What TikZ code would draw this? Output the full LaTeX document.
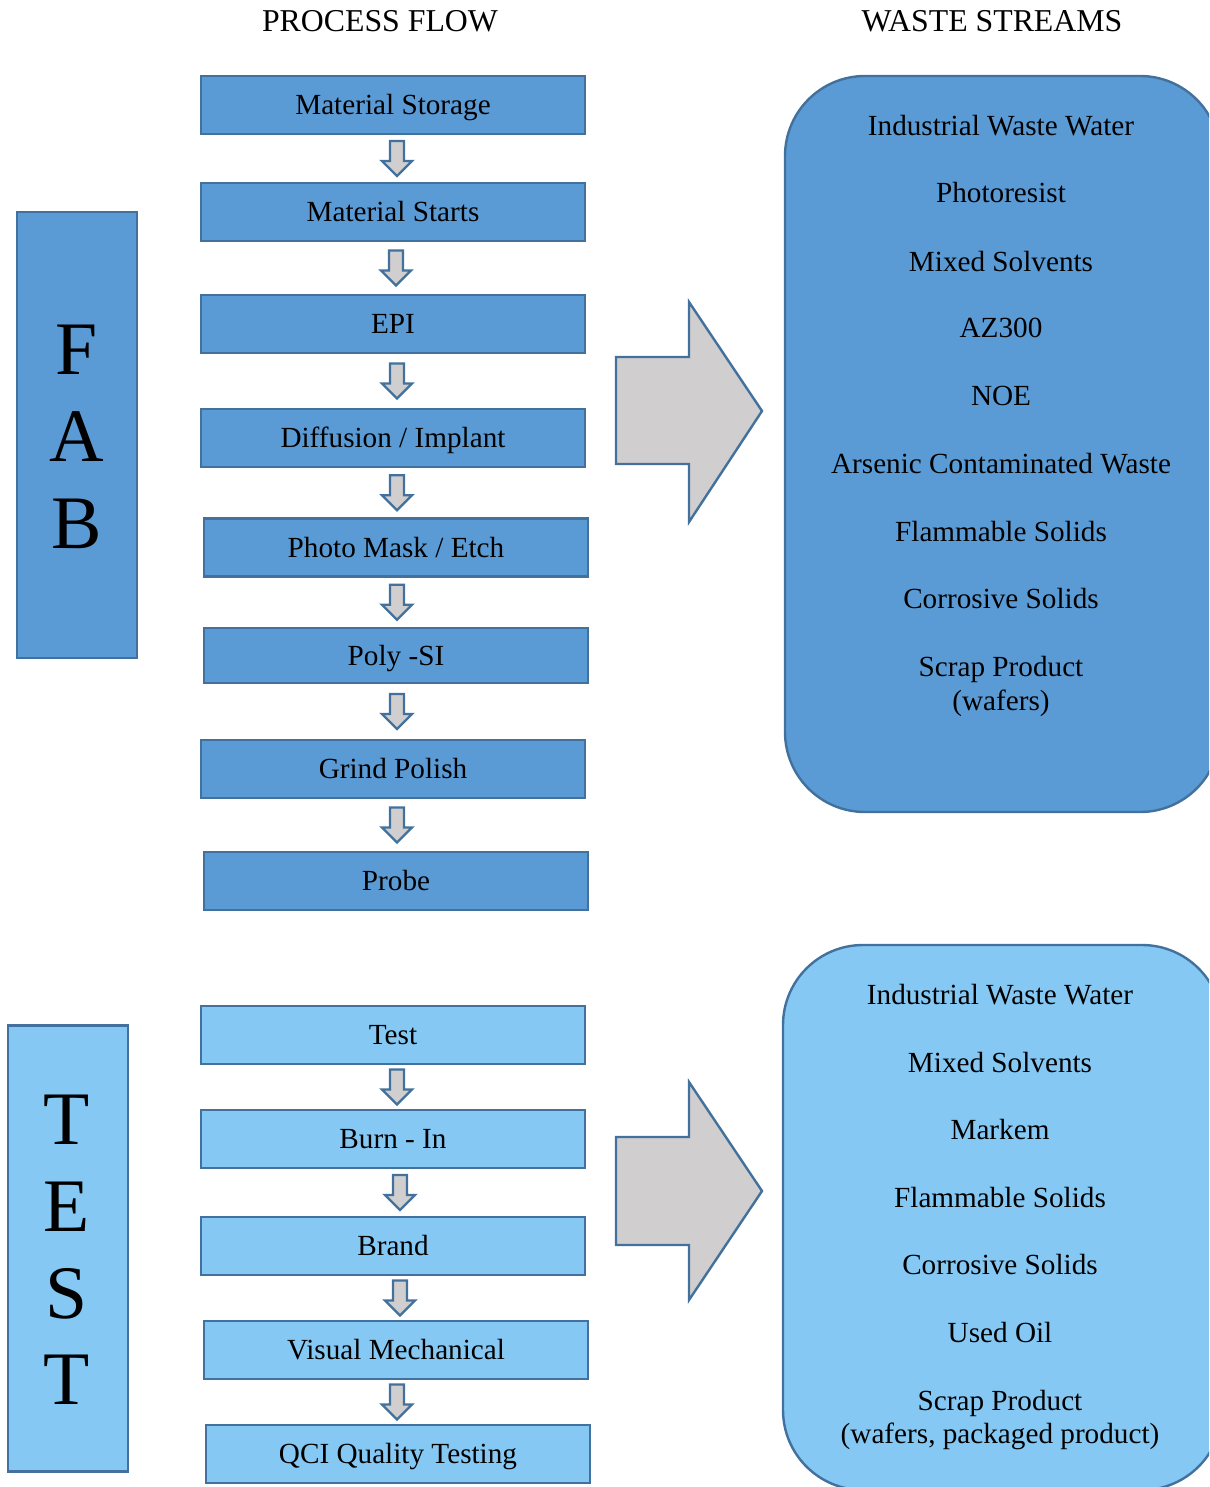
\documentclass[tikz,border=0pt]{standalone}
\usepackage{fontspec}
\setmainfont{Liberation Serif}
\usetikzlibrary{calc}
\definecolor{darkfill}{HTML}{5B9BD5}
\definecolor{lightfill}{HTML}{84C8F3}
\definecolor{edgeblue}{HTML}{41719C}
\definecolor{arrowgray}{HTML}{D0CECE}
\newcommand\blockarrow[3]{\pic at ($(#1.south)!0.5!(#2.north)+(#3,0)$) {dnarrow};}
\begin{document}
\begin{tikzpicture}[x=0.5pt,y=-0.5pt,
 every node/.style={inner sep=0pt},
 stepbox/.style={draw=edgeblue, line width=1.2pt, minimum width=192pt, minimum height=29pt,
   text height=12pt, text depth=2.5pt, font=\fontsize{14.6}{17}\selectfont},
 fabbox/.style={stepbox, fill=darkfill},
 testbox/.style={stepbox, fill=lightfill},
 waste/.style={font=\fontsize{14.6}{17}\selectfont, text height=10pt, text depth=3pt},
 wastetwo/.style={font=\fontsize{14.6}{17}\selectfont, align=center},
 titletext/.style={font=\fontsize{15.9}{18}\selectfont},
 bigletters/.style={font=\fontsize{37.8}{43.4}\selectfont, align=center},
 sidebox/.style={draw=edgeblue, line width=1.2pt, minimum width=60pt, minimum height=223pt},
 wastebox/.style={draw=edgeblue, line width=1.2pt, rounded corners=40pt},
 arrowshape/.style={draw=edgeblue, line width=1.2pt, fill=arrowgray, line join=miter},
 dnarrow/.pic={\draw[arrowshape] (-7,-17.5) -- (7,-17.5) -- (7,2.5) -- (15,2.5) -- (0,17.5) -- (-15,2.5) -- (-7,2.5) -- cycle;}
]
\useasboundingbox (0,0) rectangle (1209,1487);
\clip (0,0) rectangle (1209,1487);

% titles
\node[titletext] (t1) at (380,21) {PROCESS FLOW};
\node[titletext] (t2) at (992,21) {WASTE STREAMS};

% side boxes
\node[sidebox, fill=darkfill] (fab) at (77,435) {};
\node[bigletters] (fabtxt) at (77,437) {F\\A\\B};
\node[sidebox, fill=lightfill] (test) at (68,1248.5) {};
\node[bigletters] (testtxt) at (67,1250) {T\\E\\S\\T};

% FAB process
\node[fabbox] (f1) at (393,105) {Material Storage};
\node[fabbox] (f2) at (393,212) {Material Starts};
\node[fabbox] (f3) at (393,324) {EPI};
\node[fabbox] (f4) at (393,438) {Diffusion / Implant};
\node[fabbox] (f5) at (396,547.5) {Photo Mask / Etch};
\node[fabbox, minimum height=27.5pt] (f6) at (396,655.5) {Poly -SI};
\node[fabbox] (f7) at (393,769) {Grind Polish};
\node[fabbox] (f8) at (396,881) {Probe};

\blockarrow{f1}{f2}{4}
\blockarrow{f2}{f3}{3}
\blockarrow{f3}{f4}{4}
\blockarrow{f4}{f5}{2.5}
\blockarrow{f5}{f6}{1}
\blockarrow{f6}{f7}{2.5}
\blockarrow{f7}{f8}{2.5}

% TEST process
\node[testbox] (s1) at (393,1035) {Test};
\node[testbox] (s2) at (393,1139) {Burn - In};
\node[testbox] (s3) at (393,1246) {Brand};
\node[testbox] (s4) at (396,1350) {Visual Mechanical};
\node[testbox] (s5) at (398,1454) {QCI Quality Testing};

\blockarrow{s1}{s2}{4}
\blockarrow{s2}{s3}{7}
\blockarrow{s3}{s4}{5.5}
\blockarrow{s4}{s5}{0}

% big arrows
\draw[arrowshape] (616,357) -- (689,357) -- (689,302) -- (762,411) -- (689,522) -- (689,464) -- (616,464) -- cycle;
\draw[arrowshape] (616,1137) -- (689,1137) -- (689,1082) -- (762,1191) -- (689,1300) -- (689,1245) -- (616,1245) -- cycle;

% waste boxes
\draw[wastebox, fill=darkfill] (785,76) rectangle (1220,812);
\draw[wastebox, fill=lightfill] (783,945) rectangle (1222,1490);

% FAB waste
\node[waste] (w1) at (1001,129) {Industrial Waste Water};
\node[waste] (w2) at (1001,196) {Photoresist};
\node[waste] (w3) at (1001,264) {Mixed Solvents};
\node[waste] (w4) at (1001,330) {AZ300};
\node[waste] (w5) at (1001,398) {NOE};
\node[waste] (w6) at (1001,466) {Arsenic Contaminated Waste};
\node[waste] (w7) at (1001,534) {Flammable Solids};
\node[waste] (w8) at (1001,601) {Corrosive Solids};
\node[wastetwo] (w9) at (1001,686) {Scrap Product\\(wafers)};

% TEST waste
\node[waste] (v1) at (1000,997) {Industrial Waste Water};
\node[waste] (v2) at (1000,1065) {Mixed Solvents};
\node[waste] (v3) at (1000,1132) {Markem};
\node[waste] (v4) at (1000,1200) {Flammable Solids};
\node[waste] (v5) at (1000,1267) {Corrosive Solids};
\node[waste] (v6) at (1000,1335) {Used Oil};
\node[wastetwo] (v7) at (1000,1420) {Scrap Product\\(wafers, packaged product)};
\end{tikzpicture}
\end{document}
